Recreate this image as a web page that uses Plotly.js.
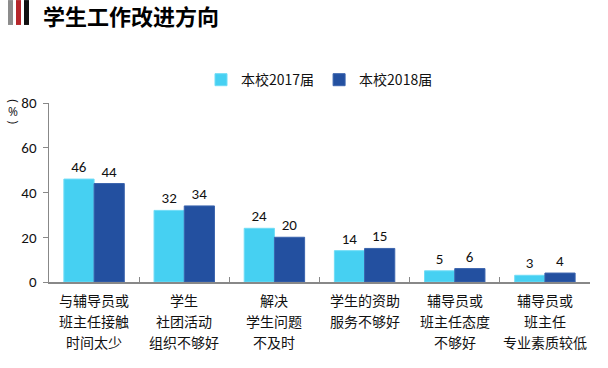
<!DOCTYPE html>
<html><head><meta charset="utf-8">
<script src="https://cdn.plot.ly/plotly-3.0.1.min.js"></script>
<style>body{margin:0;background:#fff}#c{width:608px;height:368px}</style>
</head><body><div id="c"></div>
<script>
const categories = ["与辅导员或|班主任接触|时间太少","学生|社团活动|组织不够好","解决|学生问题|不及时","学生的资助|服务不够好","辅导员或|班主任态度|不够好","辅导员或|班主任|专业素质较低"];
const seriesNames = ["本校2017届","本校2018届"];
const values2017 = [46,32,24,14,5,3];
const values2018 = [44,34,20,15,6,4];
const colors = ["#46D0F2","#2350A0"];
const numFont = "Calibri, Carlito, 'Open Sans', sans-serif";
const cjk = "'Noto Sans CJK SC', sans-serif";
const traces = [values2017, values2018].map((v,i)=>({
  type:'bar', x:categories, y:v, name:seriesNames[i],
  marker:{color:colors[i], line:{color: i===0?'#6fdcf6':'#3a63ad', width:1}},
  text:v.map(String), textposition:'outside', cliponaxis:false,
  textfont:{size:15,color:'#111',family:numFont}
}));
const lineY = [-0.1006,-0.2179,-0.3352];
const catAnn = [];
categories.forEach(c=>{
  c.split('|').forEach((line,j)=>{
    catAnn.push({text:line,xref:'x',yref:'paper',x:c,y:lineY[j],xanchor:'center',yanchor:'middle',
      showarrow:false,font:{size:14,color:'#111',family:cjk}});
  });
});
const pctAnn = [['(',1.008,90],['%',0.95,0],[')',0.89,90]].map(([t,y,a])=>({
  text:t,xref:'paper',yref:'paper',x:-0.066,y:y,xanchor:'center',yanchor:'middle',textangle:a,
  showarrow:false,font:{size:12,color:'#111',family:"'Open Sans', sans-serif"}}));
const layout = {
  width:608,height:368,
  margin:{l:49,r:18,t:103,b:86},
  paper_bgcolor:'#fff',plot_bgcolor:'#fff',
  barmode:'group',bargap:0.33,bargroupgap:0,
  showlegend:true,
  legend:{orientation:'h',x:0.5,xanchor:'center',xref:'paper',y:1.128,yanchor:'middle',
    font:{size:14,color:'#111',family:cjk},traceorder:'normal'},
  xaxis:{showline:true,linecolor:'#888',linewidth:1.5,tickson:'boundaries',ticks:'inside',ticklen:5,tickcolor:'#888',
    showticklabels:false,fixedrange:true},
  yaxis:{range:[0,80],dtick:20,showline:true,linecolor:'#888',linewidth:1.5,ticks:'outside',ticklen:5,tickcolor:'#888',
    showgrid:false,zeroline:false,tickfont:{size:15,color:'#111',family:numFont},ticklabelstandoff:3},
  annotations:[
    {text:'<b>学生工作改进方向</b>',xref:'paper',yref:'paper',x:-0.015,y:1.492,xanchor:'left',yanchor:'middle',
      showarrow:false,font:{size:22,color:'#000',family:cjk}},
    ...pctAnn, ...catAnn
  ],
  shapes:[
    {type:'rect',xref:'paper',yref:'paper',x0:-0.0758,x1:-0.0665,y0:1.436,y1:1.575,fillcolor:'#8c8c8c',line:{width:0}},
    {type:'rect',xref:'paper',yref:'paper',x0:-0.061,x1:-0.0518,y0:1.436,y1:1.575,fillcolor:'#b5262b',line:{width:0}},
    {type:'rect',xref:'paper',yref:'paper',x0:-0.0462,x1:-0.037,y0:1.436,y1:1.575,fillcolor:'#111',line:{width:0}}
  ]
};
Plotly.newPlot('c',traces,layout,{displayModeBar:false,staticPlot:true});
</script></body></html>
